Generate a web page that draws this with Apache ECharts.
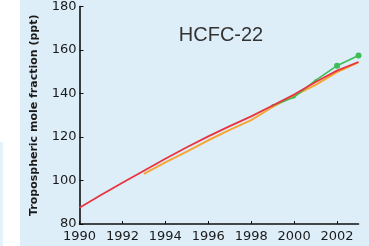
<!DOCTYPE html>
<html>
<head>
<meta charset="utf-8">
<script src="https://cdn.jsdelivr.net/npm/echarts@6/dist/echarts.min.js"></script>
<style>
  html, body { margin: 0; padding: 0; background: #fff; }
  #main { width: 369px; height: 246px; }
</style>
</head>
<body>
<div id="main"></div>
<script>
// HCFC-22 tropospheric mole fraction (ppt)
var years = [1990, 1991, 1992, 1993, 1994, 1995, 1996, 1997, 1998, 1999, 2000, 2001, 2002, 2003];
var redVals = [87.5, 93.3, 99, 104.5, 110, 115.3, 120.3, 125, 129.5, 134.5, 139.5, 145.3, 150.5, 154.5];
var orangeYears = [1993, 1994, 1995, 1996, 1997, 1998, 1999, 2000, 2001, 2002, 2003];
var orangeVals = [103, 108.3, 113.3, 118.5, 123.3, 127.8, 133.8, 139, 144, 149.8, 154.3];
var greenYears = [1999, 2000, 2001, 2002, 2003];
var greenVals = [134.5, 138.3, 146, 152.8, 157.5];
var yTicks = [80, 100, 120, 140, 160, 180];

function pairs(xs, ys) {
  return xs.map(function (x, i) { return [x, ys[i]]; });
}

var chart = echarts.init(document.getElementById('main'));
chart.setOption({
  animation: false,
  backgroundColor: '#ffffff',
  graphic: [
    { type: 'rect', z: -10, shape: { x: 20, y: 0, width: 349, height: 246 }, style: { fill: '#ddeef9' } },
    { type: 'rect', z: -10, shape: { x: 0, y: 142, width: 3, height: 104 }, style: { fill: '#e4f2fb' } }
  ],
  title: {
    text: 'HCFC-22',
    left: 216,
    top: 20,
    textAlign: 'center',
    textStyle: { fontFamily: 'Liberation Sans', fontSize: 20, fontWeight: 'normal', color: '#333' }
  },
  grid: { left: 79.5, right: 10.5, top: 4.5, bottom: 22, containLabel: false },
  xAxis: {
    type: 'value',
    min: 1990,
    max: 2003,
    interval: 2,
    splitLine: { show: false },
    axisLine: { lineStyle: { color: '#111', width: 1.6 } },
    axisTick: { inside: true, length: 3, lineStyle: { color: '#111' } },
    axisLabel: {
      showMaxLabel: false,
      margin: 6,
      fontFamily: 'DejaVu Sans',
      fontSize: 13,
      color: '#1a1a1a',
      formatter: function (v) { return String(v); }
    }
  },
  yAxis: {
    type: 'value',
    min: yTicks[0],
    max: yTicks[yTicks.length - 1],
    interval: 20,
    name: 'Tropospheric mole fraction (ppt)',
    nameLocation: 'middle',
    nameGap: 40,
    nameTextStyle: { fontFamily: 'DejaVu Sans', fontSize: 11, fontWeight: 'bold', color: '#1a1a1a' },
    splitLine: { show: false },
    axisLine: { show: true, lineStyle: { color: '#111', width: 1.6 } },
    axisTick: { show: true, inside: true, length: 4, lineStyle: { color: '#111' } },
    axisLabel: { margin: 3, fontFamily: 'DejaVu Sans', fontSize: 13, color: '#1a1a1a' }
  },
  series: [
    {
      type: 'line',
      data: pairs(orangeYears, orangeVals),
      symbol: 'none',
      lineStyle: { color: '#f6a634', width: 2 },
      z: 2
    },
    {
      type: 'line',
      data: pairs(greenYears, greenVals),
      symbol: 'circle',
      symbolSize: function (v) { return v[0] >= 2002 ? 6 : 2.5; },
      itemStyle: { color: '#3cbd55' },
      lineStyle: { color: '#3cbd55', width: 1.6 },
      z: 3
    },
    {
      type: 'line',
      data: pairs(years, redVals),
      symbol: 'none',
      lineStyle: { color: '#e8343f', width: 1.8 },
      z: 4
    }
  ]
});
</script>
</body>
</html>
